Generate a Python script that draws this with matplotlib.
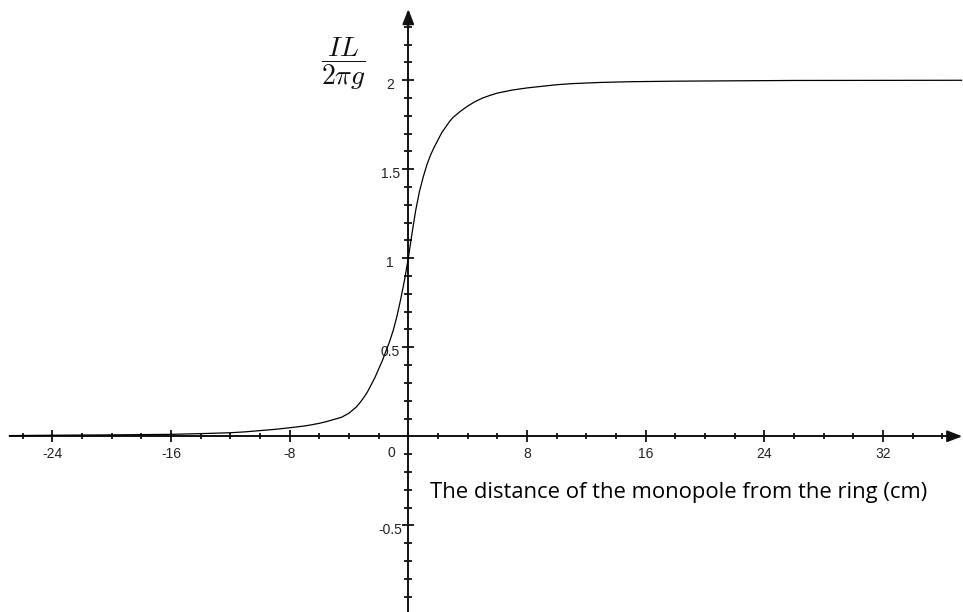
import matplotlib
matplotlib.use("Agg")
import matplotlib.pyplot as plt
import matplotlib.transforms as mtransforms
import numpy as np

# Normalised line integral vs. monopole position along the ring axis
distance_cm = [-26.9, -24, -20, -16, -14, -12, -11, -10, -9, -8, -7.5, -7,
               -6.5, -6, -5.5, -5, -4.5, -4, -3.5, -3.25, -3, -2.75, -2.5,
               -2.25, -2, -1.75, -1.5, -1.25, -1, -0.75, -0.5, -0.25, 0,
               0.25, 0.5, 0.75, 1, 1.25, 1.5, 1.75, 2, 2.25, 2.5, 2.75, 3,
               3.5, 4, 4.5, 5, 5.5, 6, 7, 8, 9, 10, 11, 13, 15, 18, 22, 26,
               37.3]
il_over_2pig = [0.004, 0.006, 0.008, 0.011, 0.015, 0.02, 0.025, 0.032, 0.039,
                0.048, 0.053, 0.058, 0.065, 0.073, 0.083, 0.095, 0.107,
                0.13, 0.165, 0.19, 0.218, 0.25, 0.29, 0.33, 0.378, 0.425,
                0.48, 0.535, 0.6, 0.68, 0.775, 0.88, 1.0, 1.14, 1.27, 1.375,
                1.455, 1.525, 1.58, 1.625, 1.665, 1.705, 1.735, 1.765, 1.79,
                1.825, 1.855, 1.88, 1.9, 1.915, 1.928, 1.945, 1.957, 1.966,
                1.975, 1.981, 1.988, 1.992, 1.995, 1.997, 1.999, 2.0]

x_major = [-24, -16, -8, 8, 16, 24, 32]
x_major_labels = ["-24", "-16", "-8", "8", "16", "24", "32"]
y_major = [-0.5, 0.5, 1, 1.5, 2]
y_major_labels = ["-0.5", "0.5", "1", "1.5", "2"]

plt.rcParams["mathtext.fontset"] = "cm"

fig = plt.figure(figsize=(9.63, 6.12), dpi=100, facecolor="white")
ax = fig.add_axes([0, 0, 1, 1])
ax.set_facecolor("white")

ax.set_xlim(-27.53, 37.4)
ax.set_ylim(-0.987, 2.451)

ax.plot(distance_cm, il_over_2pig, color="black", lw=0.9, zorder=3,
        solid_joinstyle="round")

# Axes through the origin
for side in ("top", "right"):
    ax.spines[side].set_visible(False)
ax.spines["left"].set_position(("data", 0))
ax.spines["bottom"].set_position(("data", 0))
ax.spines["left"].set_bounds(-0.99, 2.36)
ax.spines["bottom"].set_bounds(-26.86, 36.9)
for side in ("left", "bottom"):
    ax.spines[side].set_linewidth(1.4)
    ax.spines[side].set_color("#111111")

# Arrow heads
ax.annotate("", xy=(0, 2.40), xytext=(0, 2.30),
            arrowprops=dict(arrowstyle="-|>,head_length=0.9,head_width=0.35",
                            color="#111111", lw=1.4, shrinkA=0, shrinkB=0))
ax.annotate("", xy=(37.35, 0), xytext=(36.5, 0),
            arrowprops=dict(arrowstyle="-|>,head_length=0.9,head_width=0.35",
                            color="#111111", lw=1.4, shrinkA=0, shrinkB=0))

# Ticks
ax.set_xticks(x_major)
ax.set_xticklabels(x_major_labels)
ax.set_xticks(np.arange(-26, 37, 2), minor=True)
ax.set_yticks(y_major)
ax.set_yticklabels(y_major_labels)
ax.set_yticks(np.arange(-0.9, 2.35, 0.1), minor=True)

ax.tick_params(axis="both", which="major", direction="inout", length=9,
               width=1.3, color="#111111", labelsize=10, labelcolor="#222222")
ax.tick_params(axis="x", which="minor", direction="inout", length=4.5,
               width=1.3, color="#111111")
ax.tick_params(axis="y", which="minor", direction="inout", length=5.5,
               width=1.3, color="#111111")
ax.tick_params(axis="x", which="major", pad=3.5)
ax.tick_params(axis="y", which="major", pad=8.5)

for lab in ax.get_yticklabels():
    lab.set_fontfamily("Liberation Sans")
    lab.set_ha("center")
    lab.set_transform(lab.get_transform() +
                      mtransforms.ScaledTranslation(0, -3 / 100, fig.dpi_scale_trans))
for lab in ax.get_xticklabels():
    lab.set_fontfamily("Liberation Sans")

ax.text(-1.15, -0.094, "0", ha="center", va="center", fontsize=10,
        family="Liberation Sans", color="#222222")

# Axis titles
ax.text(-4.4, 2.092, r"$\dfrac{IL}{2\pi g}$", ha="center", va="center",
        fontsize=20, color="#111111")
ax.text(1.46, -0.313, "The distance of the monopole from the ring (cm)",
        ha="left", va="center", fontsize=15.8, family="Open Sans", color="black")

fig.savefig("out.png", dpi=100, facecolor="white")
